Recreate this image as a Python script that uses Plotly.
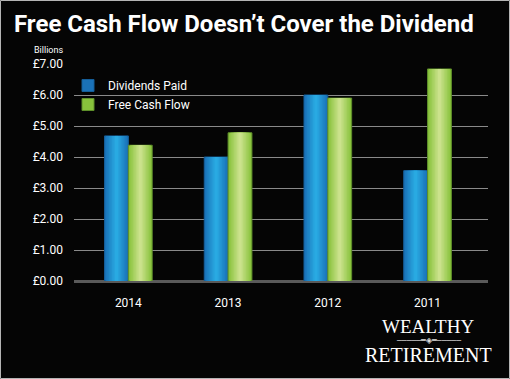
import plotly.graph_objects as go

years = ["2014", "2013", "2012", "2011"]
dividends = [4.68, 4.00, 6.00, 3.56]
free_cash_flow = [4.38, 4.78, 5.90, 6.84]
tick_vals = [0, 1, 2, 3, 4, 5, 6, 7]
tick_text = ["£0.00", "£1.00", "£2.00", "£3.00", "£4.00", "£5.00", "£6.00", "£7.00"]

FONT = "Roboto, DejaVu Sans, sans-serif"
W, H = 510, 379
L, R, T, B = 74, 22, 64, 98
PW, PH = W - L - R, H - T - B


def px_x(x):
    return (x - L) / PW


def px_y(y):
    return (H - B - y) / PH


def lerp(c1, c2, t):
    a = [int(c1[i:i + 2], 16) for i in (1, 3, 5)]
    b = [int(c2[i:i + 2], 16) for i in (1, 3, 5)]
    return "#" + "".join(f"{round(a[i] + (b[i] - a[i]) * t):02x}" for i in range(3))


fig = go.Figure()
bw = 0.239
series = [
    ("Dividends Paid", dividends, -bw / 2, "#1a72b8", "#29aae2", "#155e98"),
    ("Free Cash Flow", free_cash_flow, bw / 2, "#88c23c", "#cbe28c", "#5e8f2a"),
]
n = 8
for name, vals, center, edge, mid, outline in series:
    for k in range(n):
        frac = 1 - k / n
        w = bw * frac
        fig.add_trace(go.Bar(
            x=years, y=vals, name=name,
            width=w, offset=center - w / 2,
            marker=dict(color=lerp(edge, mid, k / (n - 1)),
                        line=dict(color=outline if k == 0 else "rgba(0,0,0,0)", width=1 if k == 0 else 0)),
            showlegend=(k == 0), hoverinfo="skip" if k else None,
        ))

fig.update_layout(
    width=W, height=H,
    paper_bgcolor="#050505", plot_bgcolor="#050505",
    margin=dict(l=L, r=R, t=T, b=B, autoexpand=False),
    barmode="overlay",
    font=dict(family=FONT, color="#ffffff"),
    title=dict(text="Free Cash Flow Doesn’t Cover the Dividend",
               x=14 / W, xanchor="left", y=1 - 24 / H, yanchor="middle",
               font=dict(family=FONT, size=24, color="#ffffff", weight="bold")),
    xaxis=dict(type="category", range=[-0.545, 3.606], showgrid=False, automargin=False,
               tickfont=dict(size=12, color="#ffffff"), ticks="", ticklabelstandoff=13,
               showline=False, zeroline=False),
    yaxis=dict(range=[0, 7], tickvals=tick_vals, ticktext=tick_text, automargin=False,
               tickfont=dict(size=12, color="#ffffff"), ticklabelstandoff=10,
               showgrid=True, gridcolor="#8a8a8a", gridwidth=1,
               zeroline=True, zerolinecolor="#5a5a5a", zerolinewidth=3,
               showline=False),
    legend=dict(x=px_x(68), y=px_y(71), xanchor="left", yanchor="top",
                bgcolor="rgba(0,0,0,0)", font=dict(size=12, color="#ffffff"),
                itemclick=False, tracegroupgap=5),
    annotations=[
        dict(text="Billions", xref="paper", yref="paper", x=px_x(65), y=px_y(50),
             xanchor="right", yanchor="middle", showarrow=False,
             font=dict(size=9, color="#ffffff")),
        dict(text="WEALTHY", xref="paper", yref="paper", x=px_x(428), y=px_y(326),
             xanchor="center", yanchor="middle", showarrow=False,
             font=dict(family="Liberation Serif, DejaVu Serif, serif", size=19, color="#ffffff")),
        dict(text="─────═◈═─────", xref="paper", yref="paper", x=px_x(428), y=px_y(340.5),
             xanchor="center", yanchor="middle", showarrow=False,
             font=dict(family="DejaVu Sans, sans-serif", size=8, color="#dddddd")),
        dict(text="RETIREMENT", xref="paper", yref="paper", x=px_x(428), y=px_y(355),
             xanchor="center", yanchor="middle", showarrow=False,
             font=dict(family="Liberation Serif, DejaVu Serif, serif", size=20, color="#ffffff")),
    ],
    shapes=[dict(type="rect", xref="paper", yref="paper",
                 x0=px_x(0.5), x1=px_x(509.5), y0=px_y(378.5), y1=px_y(0.5),
                 line=dict(color="#b5b5b5", width=1), layer="below")],
)

fig.write_html("out.html", config={"displayModeBar": False})

with open("out.html", "r", encoding="utf-8") as f:
    html = f.read()
html = html.replace("<body>", '<body style="margin:0;background:#050505">', 1)
with open("out.html", "w", encoding="utf-8") as f:
    f.write(html)
